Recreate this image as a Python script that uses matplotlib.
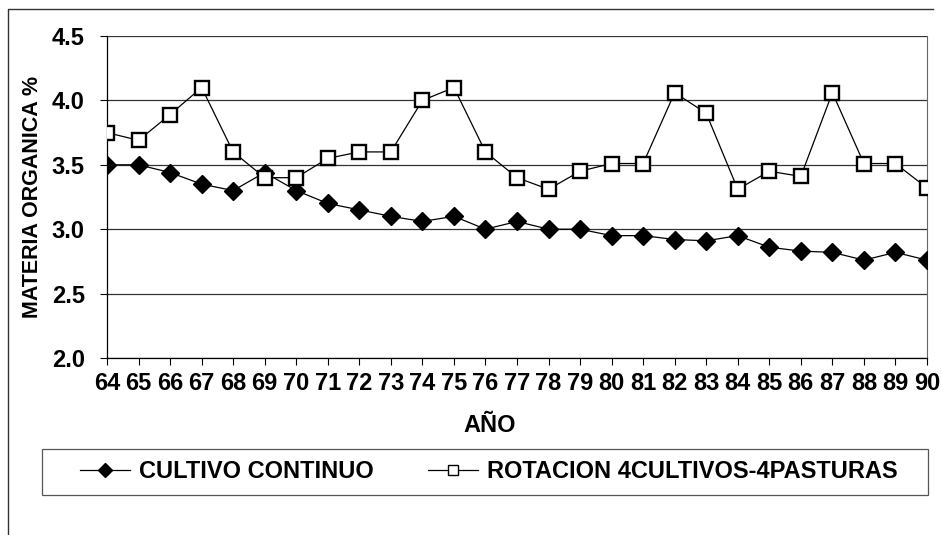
import matplotlib.pyplot as plt
from matplotlib.lines import Line2D
from matplotlib.patches import Rectangle

# Datos
anios = ['64', '65', '66', '67', '68', '69', '70', '71', '72', '73', '74', '75', '76',
         '77', '78', '79', '80', '81', '82', '83', '84', '85', '86', '87', '88', '89', '90']
cultivo_continuo = [3.50, 3.50, 3.44, 3.35, 3.30, 3.44, 3.30, 3.20, 3.15, 3.10, 3.06, 3.10, 3.00,
                    3.06, 3.00, 3.00, 2.95, 2.95, 2.92, 2.91, 2.95, 2.86, 2.83, 2.82, 2.76, 2.82, 2.76]
rotacion = [3.75, 3.69, 3.89, 4.10, 3.60, 3.40, 3.40, 3.55, 3.60, 3.60, 4.00, 4.10, 3.60,
            3.40, 3.31, 3.45, 3.51, 3.51, 4.06, 3.90, 3.31, 3.45, 3.41, 4.06, 3.51, 3.51, 3.32]
y_ticks = [2.0, 2.5, 3.0, 3.5, 4.0, 4.5]

plt.rcParams['font.family'] = ['Liberation Sans', 'DejaVu Sans']

W, H = 942, 535
fig = plt.figure(figsize=(W / 100, H / 100), dpi=100)
ax = fig.add_axes([107 / W, 1 - 358 / H, (927 - 107) / W, (358 - 36) / H])

x = list(range(len(anios)))
ax.plot(x, cultivo_continuo, color='black', lw=0.9, marker='D', ms=9,
        mfc='black', mec='black', label='CULTIVO CONTINUO', zorder=3)
ax.plot(x, rotacion, color='black', lw=0.9, marker='s', ms=10,
        mfc='white', mec='black', mew=1.7, label='ROTACION 4CULTIVOS-4PASTURAS', zorder=3)

ax.set_xlim(0, len(anios) - 1)
ax.set_ylim(2.0, 4.5)
ax.set_yticks(y_ticks)
ax.set_yticklabels([f'{v:.1f}' for v in y_ticks], fontsize=17, fontweight='bold')
ax.set_xticks(x)
ax.set_xticklabels(anios, fontsize=17, fontweight='bold')
ax.tick_params(axis='x', length=5, width=0.8, pad=5)
ax.tick_params(axis='y', length=5, width=0.8, pad=11)
ax.yaxis.grid(True, color='#333333', lw=0.9)
ax.set_axisbelow(True)
ax.spines['top'].set_visible(False)
ax.spines['left'].set_linewidth(0.9)
ax.spines['bottom'].set_linewidth(0.9)
ax.spines['right'].set_color('#666666')
ax.spines['right'].set_linewidth(0.8)

ax.set_ylabel('MATERIA ORGANICA %', fontsize=15.5, fontweight='bold', labelpad=6)
fig.text(490 / W, 1 - 425 / H, 'AÑO', fontsize=17, fontweight='bold',
         ha='center', va='center')

# leyenda sin marco, con caja aparte
handles = [Line2D([], [], color='black', lw=0.9, marker='D', ms=7, mfc='black', mec='black'),
           Line2D([], [], color='black', lw=0.9, marker='s', ms=7, mfc='white', mec='black', mew=1.0)]
fig.legend(handles, ['CULTIVO CONTINUO', 'ROTACION 4CULTIVOS-4PASTURAS'],
           loc='center left', bbox_to_anchor=(80 / W, 1 - 472 / H), ncol=2,
           frameon=False, prop={'weight': 'bold', 'size': 17},
           handlelength=2.1, handletextpad=0.4, columnspacing=2.3,
           borderpad=0, borderaxespad=0)
fig.patches.append(Rectangle((42 / W, 1 - 495 / H), (928 - 42) / W, 46 / H,
                             transform=fig.transFigure, fill=False,
                             edgecolor='#555555', lw=0.9))

# marco exterior (superior e izquierdo)
fig.lines.append(Line2D([8 / W, 8 / W, 933 / W], [0, 1 - 9 / H, 1 - 9 / H],
                        transform=fig.transFigure, color='#333333', lw=1.0))

fig.savefig('out.png', dpi=100)
